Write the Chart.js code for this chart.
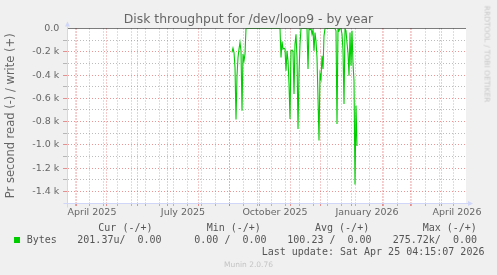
<!DOCTYPE html>
<html><head><meta charset="utf-8">
<script src="https://cdn.jsdelivr.net/npm/chart.js@4/dist/chart.umd.min.js"></script>
<style>
html,body{margin:0;padding:0;background:#f0f0f0;}
#wrap{position:relative;width:497px;height:275px;overflow:hidden;background:#f0f0f0;}
#c{position:absolute;left:0;top:0;}
.m{position:absolute;font-family:"DejaVu Sans Mono",monospace;font-size:10px;line-height:12px;color:#555;white-space:pre;}
#title{position:absolute;left:0;top:11.2px;width:497px;text-align:center;font-family:"DejaVu Sans",sans-serif;font-size:12.4px;line-height:15px;color:#666;white-space:pre;}
#rrd{position:absolute;left:487px;top:53.5px;transform:translate(-50%,-50%) rotate(90deg);font-family:"DejaVu Sans",sans-serif;font-size:7.5px;line-height:9px;color:#c8c8c8;white-space:pre;}
#munin{position:absolute;left:0;width:497px;top:259.6px;text-align:center;font-family:"DejaVu Sans",sans-serif;font-size:7.5px;line-height:9px;color:#c4c4c4;}
#sq{position:absolute;left:14px;top:236.5px;width:6px;height:6px;background:#00cc00;}
</style></head><body>
<div id="wrap">
<canvas id="c" width="497" height="275"></canvas>
<div id="title">Disk throughput for /dev/loop9 - by year</div>
<div id="rrd">RRDTOOL / TOBI OETIKER</div>
<div class="m" style="left:98.3px;top:221.9px">Cur (-/+)</div>
<div class="m" style="left:206.7px;top:221.9px">Min (-/+)</div>
<div class="m" style="left:315px;top:221.9px">Avg (-/+)</div>
<div class="m" style="left:422.7px;top:221.9px">Max (-/+)</div>
<div id="sq"></div>
<div class="m" style="left:26.7px;top:233.5px">Bytes</div>
<div class="m" style="left:77.3px;top:233.5px">201.37u/  0.00</div>
<div class="m" style="left:194.3px;top:233.5px">0.00 /  0.00</div>
<div class="m" style="left:287.3px;top:233.5px">100.23 /  0.00</div>
<div class="m" style="left:392.7px;top:233.5px">275.72k/  0.00</div>
<div class="m" style="left:261.7px;top:245.5px">Last update: Sat Apr 25 04:15:07 2026</div>
<div id="munin">Munin 2.0.76</div>
</div>
<script>
// x axis: days since 2025-01-01
const monthStartDays = [90,120,151,181,212,243,273,304,334,365,396,424,455];
const xLabelDays = [106,197,289,381,471];
const xLabelTexts = ['April 2025','July 2025','October 2025','January 2026','April 2026'];
const yTickValues = [0,-200,-400,-600,-800,-1000,-1200,-1400];
const yTickLabels = ['0.0','-0.2 k','-0.4 k','-0.6 k','-0.8 k','-1.0 k','-1.2 k','-1.4 k'];

const readDays = [246,247,248,249,250,251,252,253,254,255,256,257,258,259,260,265,270,275,280,285,290,
  294,295,296,297,298,299,300,301,302,303,304,305,306,307,308,309,310,311,312,313,314,315,318,321,
  322,323,324,325,326,327,328,329,330,331,332,333,334,335,336,337,338,339,343,347,349,
  350,351,352,353,354,355,356,357,358,359,360,361,362,363,364,365,366,367,368,369,370,371];
const readValues = [-206,-169,-206,-334,-783,-406,-249,-177,-120,-192,-706,-220,-277,-220,0,0,0,0,0,0,0,
  0,-249,-111,-177,-169,-177,-363,-192,-277,-477,-777,-192,-186,-200,-563,-134,-49,-250,-863,-391,-134,0,0,0,
  -349,0,-10,0,-49,-10,-192,-34,-110,-250,-600,-963,-391,-434,-234,-349,-63,0,0,0,0,
  -20,-820,0,-20,0,0,-49,-186,-648,0,-20,-125,-210,-406,-35,-320,-20,-300,-450,-1340,-663,-1010];
const zeroLine = [0,0];

const X_MIN = 81, X_MAX = 480, Y_MIN = -1500, Y_MAX = 0;
const MAJ = 'rgba(222,79,79,0.6)', MIN = 'rgba(143,143,143,0.6)', NONE = 'rgba(0,0,0,0)';
const AXIS = '#CFD6F8';

const xTickInfo = [];
monthStartDays.forEach(d => xTickInfo.push({value:d, type:'major', label:''}));
for (let d = 89; d < X_MAX; d += 14) xTickInfo.push({value:d, type:'minor', label:''});
xLabelDays.forEach((d,i) => xTickInfo.push({value:d, type:'label', label:xLabelTexts[i]}));
xTickInfo.sort((a,b) => a.value - b.value);

const yTickInfo = [];
for (let v = Y_MIN; v <= Y_MAX; v += 100) {
  const k = yTickValues.indexOf(v);
  let type = k >= 0 ? 'major' : 'minor';
  if (v === Y_MAX || v === Y_MIN) type = 'none';
  yTickInfo.push({value:v, type:type, label: k >= 0 ? yTickLabels[k] : ''});
}
function colOf(info){ if(!info) return NONE; return info.type==='major'?MAJ:(info.type==='minor'?MIN:NONE); }

const bgPlugin = {
  id:'bg',
  beforeDraw(chart){
    const {ctx, chartArea:a} = chart;
    ctx.save(); ctx.fillStyle = '#ffffff';
    ctx.fillRect(a.left, a.top, a.right-a.left, a.bottom-a.top);
    ctx.restore();
  },
  afterDraw(chart){
    const {ctx, chartArea:a} = chart;
    const xl = Math.round(a.left)+0.5, yb = Math.round(a.bottom)+0.5;
    ctx.save();
    ctx.setLineDash([]);
    ctx.strokeStyle = AXIS; ctx.fillStyle = AXIS; ctx.lineWidth = 1;
    ctx.beginPath();
    ctx.moveTo(xl, yb+4); ctx.lineTo(xl, a.top-2);
    ctx.moveTo(xl-4, yb); ctx.lineTo(a.right+2, yb);
    ctx.stroke();
    ctx.beginPath();
    ctx.moveTo(xl, a.top-7); ctx.lineTo(xl-2.5, a.top-2); ctx.lineTo(xl+2.5, a.top-2); ctx.closePath(); ctx.fill();
    ctx.beginPath();
    ctx.moveTo(a.right+7, yb); ctx.lineTo(a.right+2, yb-2.5); ctx.lineTo(a.right+2, yb+2.5); ctx.closePath(); ctx.fill();
    ctx.restore();
  }
};

Chart.defaults.font.family = 'DejaVu Sans';
Chart.defaults.color = '#666';

new Chart(document.getElementById('c'), {
  type:'line',
  data:{
    datasets:[
      {label:'zero', data:[{x:X_MIN,y:zeroLine[0]},{x:X_MAX,y:zeroLine[1]}], borderColor:'#000000', borderWidth:1, pointRadius:0, order:0},
      {label:'Bytes', data:readDays.map((d,i)=>({x:d,y:readValues[i]})), borderColor:'#00cc00', borderWidth:1.1, pointRadius:0, tension:0, order:1}
    ]
  },
  options:{
    responsive:false, animation:false, devicePixelRatio:1,
    layout:{padding:{left:0,right:31,top:28.5,bottom:52}},
    plugins:{legend:{display:false}, title:{display:false}, tooltip:{enabled:false}},
    scales:{
      x:{
        type:'linear', min:X_MIN, max:X_MAX,
        afterBuildTicks(s){ s.ticks = xTickInfo.map(t=>({value:t.value})); },
        afterFit(s){ s.height = 20; },
        ticks:{autoSkip:false, maxRotation:0, minRotation:0, padding:1, font:{size:9.5}, color:'#666',
          callback:(v,i)=> xTickInfo[i] ? xTickInfo[i].label : ''},
        grid:{color:ctx=>colOf(xTickInfo[ctx.index]), lineWidth:1, tickLength:3, drawTicks:true},
        border:{display:true, color:AXIS, width:1, dash:[1,2], dashOffset:0}
      },
      y:{
        type:'linear', min:Y_MIN, max:Y_MAX,
        afterBuildTicks(s){ s.ticks = yTickInfo.map(t=>({value:t.value})); },
        afterFit(s){ s.width = 67; },
        ticks:{autoSkip:false, padding:3.7, font:{size:9.5}, color:'#666',
          callback:(v,i)=> yTickInfo[i] ? yTickInfo[i].label : ''},
        grid:{color:ctx=>colOf(yTickInfo[ctx.index]), lineWidth:1, tickLength:4, drawTicks:true},
        border:{display:true, color:AXIS, width:1, dash:[1,2], dashOffset:0},
        title:{display:true, text:'Pr second read (-) / write (+)', color:'#666', font:{size:11.5}, padding:{top:4.1,bottom:0}}
      }
    }
  },
  plugins:[bgPlugin]
});
</script>
</body></html>
